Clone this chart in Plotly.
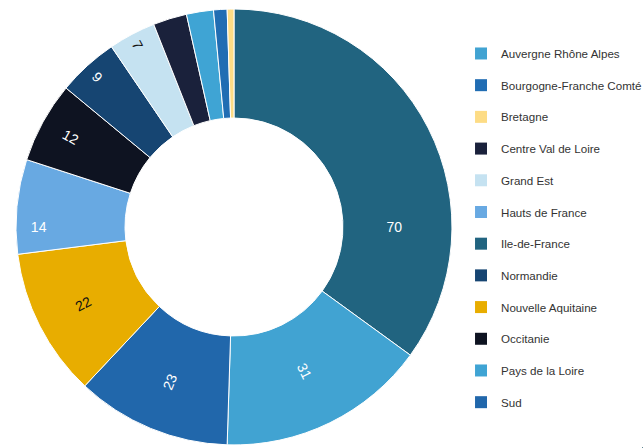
import plotly.graph_objects as go

# slices, in the order they are drawn (clockwise from 12 o'clock)
regions = [
    "Ile-de-France", "Auvergne Rhône Alpes", "Sud", "Nouvelle Aquitaine",
    "Hauts de France", "Occitanie", "Normandie", "Grand Est",
    "Centre Val de Loire", "Pays de la Loire", "Bourgogne-Franche Comté", "Bretagne",
]
counts = [70, 31, 23, 22, 14, 12, 9, 7, 5, 4, 2, 1]
region_colors = {
    "Auvergne Rhône Alpes": "#41a3d2",
    "Bourgogne-Franche Comté": "#216db3",
    "Bretagne": "#fddc85",
    "Centre Val de Loire": "#1a213b",
    "Grand Est": "#c5e2f1",
    "Hauts de France": "#68a9e2",
    "Ile-de-France": "#216480",
    "Normandie": "#164572",
    "Nouvelle Aquitaine": "#e8ad00",
    "Occitanie": "#0e1321",
    "Pays de la Loire": "#3fa4d4",
    "Sud": "#2167ab",
}
dark_text = {"Nouvelle Aquitaine", "Grand Est"}

# legend is alphabetical
legend_order = sorted(region_colors)

fig = go.Figure()

fig.add_trace(
    go.Pie(
        labels=regions,
        values=counts,
        text=[str(v) if v >= 7 else "" for v in counts],
        textinfo="text",
        textposition="inside",
        insidetextorientation="radial",
        insidetextfont=dict(
            family="Liberation Sans, Arial, sans-serif",
            size=14,
            color=["#111111" if r in dark_text else "#ffffff" for r in regions],
        ),
        marker=dict(colors=[region_colors[r] for r in regions], line=dict(color="#ffffff", width=1)),
        hole=0.5,
        sort=False,
        direction="clockwise",
        rotation=0,
        showlegend=False,
        domain=dict(x=[0.0249, 0.7029], y=[0.0067, 0.9799]),
    )
)

# one tiny pie per legend entry so the legend can be alphabetical and spaced out
for name in legend_order:
    fig.add_trace(
        go.Pie(
            labels=[name],
            values=[1],
            marker=dict(colors=[region_colors[name]], line=dict(width=0)),
            textinfo="none",
            hoverinfo="skip",
            legendgroup=name,
            showlegend=True,
            domain=dict(x=[0.999, 1.0], y=[0.0, 0.001]),
        )
    )

fig.update_layout(
    width=643,
    height=448,
    margin=dict(l=0, r=0, t=0, b=0, autoexpand=False),
    paper_bgcolor="#ffffff",
    plot_bgcolor="#ffffff",
    font=dict(family="Liberation Sans, Arial, sans-serif", size=12, color="#333333"),
    legend=dict(
        x=0.717,
        y=0.913,
        xanchor="left",
        yanchor="top",
        traceorder="grouped",
        tracegroupgap=12.7,
        font=dict(size=11.6, color="#333333"),
    ),
)

# drop the page's default body margin so the figure fills the window exactly
fig.write_html(
    "out.html",
    config={"displayModeBar": False},
    post_script="document.body.style.margin = '0';",
)
